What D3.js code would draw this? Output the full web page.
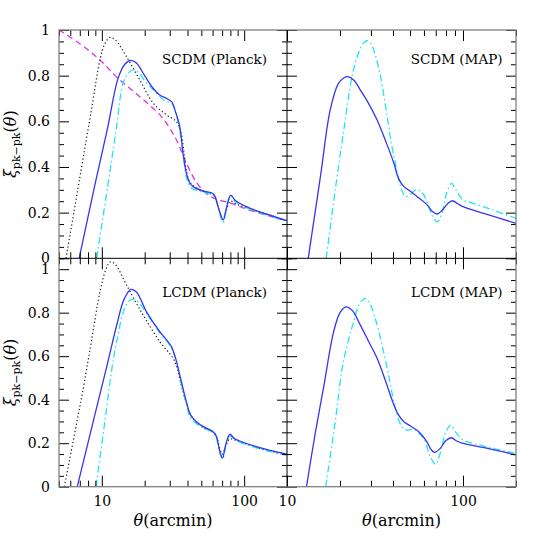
<!DOCTYPE html>
<html>
<head>
<meta charset="utf-8">
<script src="https://cdn.jsdelivr.net/npm/d3@7"></script>
<style>
  body { margin: 0; background: #fff; }
  svg text { font-family: "DejaVu Serif", serif; fill: #000; }
</style>
</head>
<body>
<div id="figure"></div>
<script>
// theta (arcmin), xi pairs

// SCDM (Planck)
var scdmPlanckSolid = [[6.93,0],[9,0.33],[11,0.574],[13,0.788],[14.5,0.85],[16,0.867],[17.5,0.855],[20,0.80],[22.9,0.745],[25.5,0.715],[28.5,0.70],[31,0.685],[33,0.64],[35.3,0.576],[37.2,0.46],[39.3,0.372],[41.5,0.33],[43.8,0.314],[51.5,0.295],[58.9,0.287],[62,0.275],[66,0.22],[71.2,0.168],[75,0.22],[80.5,0.277],[86,0.255],[93,0.241],[120,0.21],[150,0.19],[200,0.165]];
var scdmPlanckDashDot = [[9.2,0],[11,0.317],[12.5,0.547],[14.1,0.766],[15.3,0.81],[16.6,0.825],[18,0.815],[20.5,0.77],[24.3,0.723],[27.5,0.69],[30.9,0.679],[33,0.64],[35.3,0.56],[37.5,0.44],[39.5,0.35],[42.7,0.307],[48,0.295],[54.3,0.285],[60,0.278],[63,0.26],[67,0.2],[71,0.156],[75,0.215],[80.5,0.275],[86,0.25],[93,0.236],[120,0.205],[150,0.185],[200,0.16]];
var scdmPlanckDotted = [[5.6,0],[7,0.353],[8.5,0.66],[9.7,0.869],[10.5,0.94],[11.4,0.968],[12.5,0.955],[14.9,0.883],[18.5,0.781],[23,0.679],[28.5,0.628],[33.5,0.598],[36,0.55],[38,0.45],[39.5,0.375],[42,0.33],[50,0.296],[58,0.285],[62,0.272],[66,0.22],[71,0.17],[75,0.21],[80,0.25],[88,0.238],[100,0.225],[150,0.19],[200,0.163]];
var scdmPlanckDashed = [[5,1.0],[7,0.94],[9.7,0.869],[13,0.788],[18.5,0.708],[25.6,0.628],[30,0.57],[33.5,0.518],[39.3,0.416],[46.5,0.33],[54,0.285],[63,0.26],[80,0.242],[97,0.222],[140,0.19],[200,0.165]];

// SCDM (MAP)
var scdmMapSolid = [[13.2,0],[15.5,0.36],[17.6,0.65],[19.6,0.766],[21,0.79],[22.2,0.796],[24,0.78],[26.1,0.737],[29,0.68],[32.5,0.606],[36.5,0.51],[40.5,0.416],[43,0.35],[46.1,0.314],[50,0.295],[55,0.27],[62.7,0.233],[67,0.205],[71.4,0.194],[76,0.21],[82,0.24],[87,0.252],[93,0.24],[100,0.226],[140,0.19],[200,0.153]];
var scdmMapDashDot = [[16.7,0],[18.8,0.3],[20.9,0.548],[23.4,0.796],[25.5,0.9],[27,0.94],[28.5,0.953],[30,0.94],[32,0.88],[34,0.796],[37.1,0.62],[39,0.51],[41.3,0.416],[44,0.32],[47.1,0.27],[50,0.28],[53,0.296],[56.1,0.299],[59,0.285],[62.7,0.245],[67,0.185],[71.4,0.16],[76,0.2],[81,0.29],[86,0.328],[91,0.3],[100,0.255],[110,0.245],[150,0.21],[200,0.175]];

// LCDM (Planck)
var lcdmPlanckSolid = [[6.72,0],[9.2,0.365],[11,0.571],[12.7,0.741],[14.3,0.86],[16,0.907],[17.5,0.895],[20.6,0.804],[25.6,0.712],[28.5,0.675],[30.9,0.643],[33,0.59],[35.3,0.513],[39.3,0.39],[42,0.33],[46.2,0.299],[52,0.275],[60.5,0.253],[64,0.23],[67,0.17],[70.5,0.133],[74,0.19],[79.3,0.241],[85,0.222],[93,0.21],[120,0.185],[150,0.168],[200,0.149]];
var lcdmPlanckDashDot = [[9.1,0],[10.5,0.3],[12,0.58],[13,0.7],[14.1,0.8],[15.3,0.85],[16.6,0.862],[18,0.85],[21.8,0.773],[26,0.7],[30,0.651],[33,0.59],[35.3,0.5],[39.3,0.38],[42,0.315],[46.2,0.29],[52,0.27],[60.5,0.248],[64,0.22],[67,0.16],[70.5,0.127],[74,0.18],[79.3,0.235],[85,0.218],[93,0.205],[120,0.18],[150,0.162],[200,0.145]];
var lcdmPlanckDotted = [[5.45,0],[7.4,0.452],[8.5,0.68],[9.7,0.896],[10.7,1.0],[11.5,1.034],[12.5,1.02],[14.9,0.927],[19.5,0.789],[25.6,0.666],[31.7,0.59],[34,0.54],[36,0.47],[39.3,0.385],[42,0.33],[46.2,0.297],[52,0.27],[60.5,0.25],[64,0.23],[67,0.18],[70.5,0.15],[74,0.185],[79.3,0.22],[85,0.215],[93,0.207],[120,0.182],[150,0.165],[200,0.147]];

// LCDM (MAP)
var lcdmMapSolid = [[12.9,0],[14.5,0.25],[16.1,0.452],[18.4,0.712],[20,0.8],[21.6,0.827],[23.5,0.81],[26.1,0.743],[29,0.67],[32.5,0.59],[36.5,0.48],[40.5,0.375],[43,0.33],[46.1,0.299],[50,0.28],[56.1,0.253],[62,0.21],[66,0.17],[69,0.158],[74,0.175],[80,0.212],[86,0.225],[92,0.21],[100,0.199],[140,0.175],[200,0.146]];
var lcdmMapDashDot = [[16.6,0],[18.8,0.3],[20.9,0.574],[23.9,0.758],[25.8,0.84],[27.9,0.865],[30,0.83],[32.5,0.743],[37.1,0.544],[40,0.41],[42.3,0.329],[45,0.275],[48.2,0.26],[52,0.265],[55,0.253],[60,0.22],[65,0.14],[70,0.103],[74,0.15],[79,0.24],[85,0.283],[91,0.25],[100,0.215],[120,0.195],[150,0.175],[200,0.153]];

var panelLabels = ["SCDM (Planck)", "SCDM (MAP)", "LCDM (Planck)", "LCDM (MAP)"];
var xDomainLeft = [5, 200], xDomainRight = [10, 200];
var yDomainTop = [0, 1], yDomainBottom = [0, 1.05];
var xMajorTicks = [10, 100];
var xLabelTicks = [10, 100];
var yTickLabels = [0, 0.2, 0.4, 0.6, 0.8, 1];

var width = 545, height = 545;
var colLeft = [59, 287], colRight = [287, 516];
var rowTop = [258.3, 30], rowBottom = [486.7, 258.3];

var svg = d3.select("#figure").append("svg")
  .attr("width", width)
  .attr("height", height);

var styles = {
  solid:   { stroke: "#3535f0", dash: null,           w: 1.3 },
  dashdot: { stroke: "#1ee6f0", dash: "7,3,1.5,3",    w: 1.3 },
  dotted:  { stroke: "#222",    dash: "1.3,2.4",      w: 1.2 },
  dashed:  { stroke: "#e030e0", dash: "6,4",          w: 1.3 }
};

var panels = [
  { label: panelLabels[0], xd: xDomainLeft,  xr: colLeft,  yd: yDomainTop,    yr: rowTop,    left: true,  bottom: false,
    series: [["dashed", scdmPlanckDashed], ["dotted", scdmPlanckDotted], ["dashdot", scdmPlanckDashDot], ["solid", scdmPlanckSolid]] },
  { label: panelLabels[1], xd: xDomainRight, xr: colRight, yd: yDomainTop,    yr: rowTop,    left: false, bottom: false,
    series: [["dashdot", scdmMapDashDot], ["solid", scdmMapSolid]] },
  { label: panelLabels[2], xd: xDomainLeft,  xr: colLeft,  yd: yDomainBottom, yr: rowBottom, left: true,  bottom: true,
    series: [["dotted", lcdmPlanckDotted], ["dashdot", lcdmPlanckDashDot], ["solid", lcdmPlanckSolid]] },
  { label: panelLabels[3], xd: xDomainRight, xr: colRight, yd: yDomainBottom, yr: rowBottom, left: false, bottom: true,
    series: [["dashdot", lcdmMapDashDot], ["solid", lcdmMapSolid]] }
];

function yFormat(d) {
  if (d === 0) return "0";
  if (d === 1) return "1";
  return d3.format(".1f")(d);
}

panels.forEach(function(p, i) {
  var x = d3.scaleLog().domain(p.xd).range(p.xr);
  var y = d3.scaleLinear().domain(p.yd).range(p.yr);
  var g = svg.append("g").attr("class", "panel");

  var clipId = "clip" + i;
  svg.append("clipPath").attr("id", clipId)
    .append("rect")
      .attr("x", p.xr[0]).attr("y", p.yr[1])
      .attr("width", p.xr[1] - p.xr[0]).attr("height", p.yr[0] - p.yr[1]);

  // curves
  var line = d3.line()
    .x(function(d) { return x(d[0]); })
    .y(function(d) { return y(d[1]); })
    .curve(d3.curveCatmullRom.alpha(0.5));

  p.series.forEach(function(s) {
    var st = styles[s[0]];
    g.append("path")
      .datum(s[1])
      .attr("clip-path", "url(#" + clipId + ")")
      .attr("fill", "none")
      .attr("stroke", st.stroke)
      .attr("stroke-width", st.w)
      .attr("stroke-dasharray", st.dash)
      .attr("d", line);
  });

  // x ticks, bottom + top, pointing inward
  var xMinor = x.ticks().filter(function(t) { return xMajorTicks.indexOf(t) < 0; });
  var xb = g.append("g").attr("transform", "translate(0," + p.yr[0] + ")");
  xb.append("g").call(d3.axisBottom(x).tickValues(xMinor).tickSize(-6).tickFormat(""));
  xb.append("g").call(d3.axisBottom(x).tickValues(xMajorTicks).tickSize(-11).tickPadding(9)
    .tickFormat(function(d) { return p.bottom && xLabelTicks.indexOf(d) >= 0 ? d : ""; }));
  var xt = g.append("g").attr("transform", "translate(0," + p.yr[1] + ")");
  xt.append("g").call(d3.axisTop(x).tickValues(xMinor).tickSize(-6).tickFormat(""));
  xt.append("g").call(d3.axisTop(x).tickValues(xMajorTicks).tickSize(-11).tickFormat(""));

  // y ticks, left + right
  var yMinor = d3.range(0, p.yd[1] + 0.001, 0.05).map(function(v) { return +v.toFixed(2); })
    .filter(function(v) { return Math.round(v * 100) % 20 !== 0; });
  var yl = g.append("g").attr("transform", "translate(" + p.xr[0] + ",0)");
  yl.append("g").call(d3.axisLeft(y).tickValues(yMinor).tickSize(-5).tickFormat(""));
  yl.append("g").call(d3.axisLeft(y).tickValues(yTickLabels).tickSize(-10).tickPadding(9)
    .tickFormat(function(d) { return p.left ? yFormat(d) : ""; }));
  var yr = g.append("g").attr("transform", "translate(" + p.xr[1] + ",0)");
  yr.append("g").call(d3.axisRight(y).tickValues(yMinor).tickSize(-5).tickFormat(""));
  yr.append("g").call(d3.axisRight(y).tickValues(yTickLabels).tickSize(-10).tickFormat(""));

  g.selectAll(".domain").remove();
  g.selectAll(".tick line").attr("stroke", "#000").attr("stroke-width", 1);
  g.selectAll(".tick text")
    .style("font-family", "'DejaVu Serif', serif")
    .style("font-size", "14px");

  // panel label
  g.append("text")
    .attr("x", p.xr[1] - (p.left ? 20 : 13.5))
    .attr("y", p.yr[1] + (p.bottom ? 38.5 : 34))
    .attr("text-anchor", "end")
    .style("font-size", "13.5px")
    .text(p.label);

  if (p.bottom) {
    var xl = g.append("text")
      .attr("x", (p.xr[0] + p.xr[1]) / 2)
      .attr("y", 526)
      .attr("text-anchor", "middle")
      .style("font-size", "16px");
    xl.append("tspan").style("font-style", "italic").text("θ");
    xl.append("tspan").text("(arcmin)");
  }

  if (p.left) {
    var cy = (p.yr[0] + p.yr[1]) / 2;
    var yt = g.append("text")
      .attr("transform", "translate(16," + cy + ") rotate(-90)")
      .attr("text-anchor", "middle")
      .style("font-size", "16px");
    yt.append("tspan").style("font-style", "italic").text("ξ");
    yt.append("tspan").attr("dy", 4).style("font-size", "11px").text("pk−pk");
    yt.append("tspan").attr("dy", -4).text("(");
    yt.append("tspan").style("font-style", "italic").text("θ");
    yt.append("tspan").text(")");
  }
});

// frame: gray outer box, black inner dividers
svg.append("rect")
  .attr("x", 59).attr("y", 30)
  .attr("width", 516 - 59).attr("height", 486.7 - 30)
  .attr("fill", "none")
  .attr("stroke", "#808080")
  .attr("stroke-width", 1.3);
svg.append("line")
  .attr("x1", 287).attr("x2", 287).attr("y1", 30).attr("y2", 486.7)
  .attr("stroke", "#000");
svg.append("line")
  .attr("x1", 59).attr("x2", 516).attr("y1", 258.3).attr("y2", 258.3)
  .attr("stroke", "#000");
</script>
</body>
</html>
